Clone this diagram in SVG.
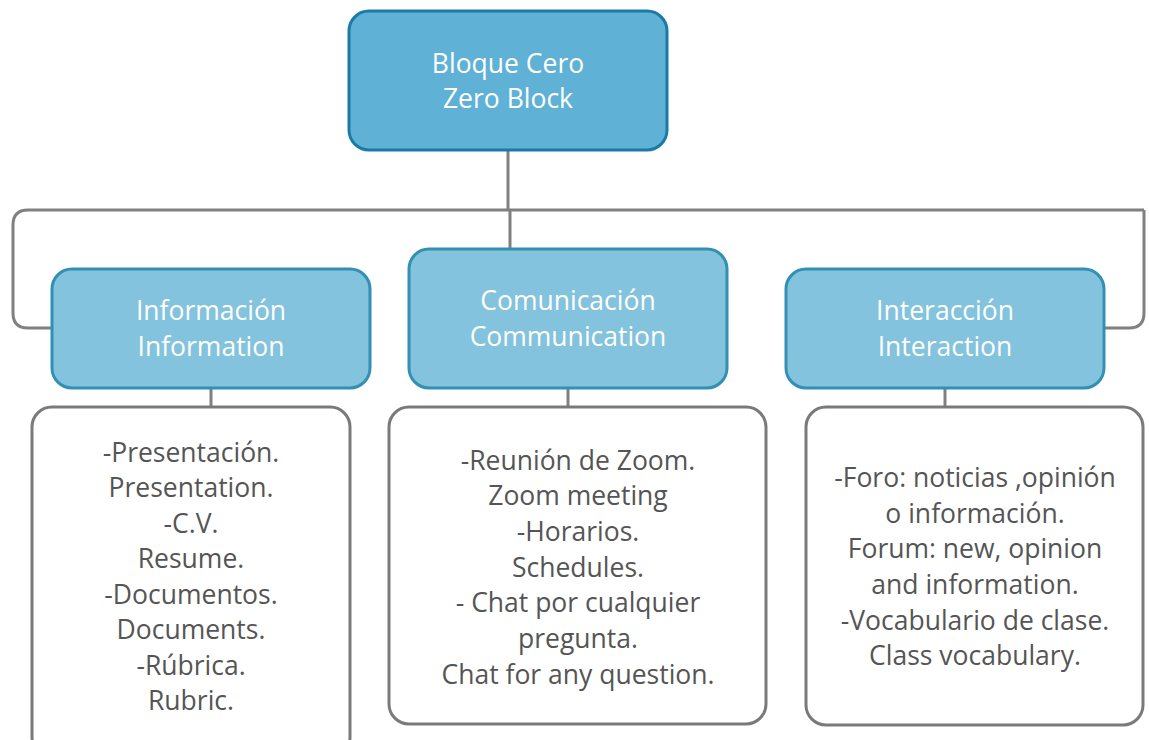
<svg xmlns="http://www.w3.org/2000/svg" width="1149" height="740" viewBox="0 0 1149 740">
<style>
.root{fill:#5fb1d6;stroke:#1c7aa6;stroke-width:3}
.mid{fill:#83c3dd;stroke:#3290b4;stroke-width:3}
.leaf{fill:#ffffff;stroke:#7a7a7a;stroke-width:3}
.wt{font-family:"Open Sans","Noto Sans",sans-serif;font-size:26.5px;fill:#ffffff;text-anchor:middle}
.gt{font-family:"Open Sans","Noto Sans",sans-serif;font-size:26.5px;fill:#555555;text-anchor:middle}
.conn{fill:none;stroke:#808080;stroke-width:3}
</style>
<rect width="1149" height="740" fill="#ffffff"/>
<g id="connectors">
<path class="conn" d="M508,150 V211"/>
<path class="conn" d="M1144,210 H28 Q13,210 13,225 V313 Q13,328 28,328 H52"/>
<path class="conn" d="M1144,210 V313 Q1144,328 1129,328 H1104"/>
<path class="conn" d="M510,211 V249"/>
<path class="conn" d="M211,388 V407"/>
<path class="conn" d="M568,388 V407"/>
<path class="conn" d="M945,388 V407"/>
</g>
<g id="root">
<rect class="root" x="349" y="11" width="318" height="139" rx="20"/>
<text class="wt" x="508" y="73">Bloque Cero</text>
<text class="wt" x="508" y="108">Zero Block</text>
</g>
<g id="informacion">
<rect class="mid" x="52" y="269" width="318" height="119" rx="20"/>
<text class="wt" x="211" y="320">Información</text>
<text class="wt" x="211" y="356">Information</text>
</g>
<g id="comunicacion">
<rect class="mid" x="409" y="249" width="318" height="139" rx="20"/>
<text class="wt" x="568" y="310">Comunicación</text>
<text class="wt" x="568" y="346">Communication</text>
</g>
<g id="interaccion">
<rect class="mid" x="786" y="269" width="318" height="119" rx="20"/>
<text class="wt" x="945" y="320">Interacción</text>
<text class="wt" x="945" y="356">Interaction</text>
</g>
<g id="info-items">
<rect class="leaf" x="32" y="407" width="318" height="350" rx="20"/>
<text class="gt" x="191" y="462">-Presentación.</text>
<text class="gt" x="191" y="497">Presentation.</text>
<text class="gt" x="191" y="533">-C.V.</text>
<text class="gt" x="191" y="568">Resume.</text>
<text class="gt" x="191" y="604">-Documentos.</text>
<text class="gt" x="191" y="639">Documents.</text>
<text class="gt" x="191" y="675">-Rúbrica.</text>
<text class="gt" x="191" y="710">Rubric.</text>
</g>
<g id="comm-items">
<rect class="leaf" x="389" y="407" width="377" height="317" rx="20"/>
<text class="gt" x="578" y="470">-Reunión de Zoom.</text>
<text class="gt" x="578" y="505">Zoom meeting</text>
<text class="gt" x="578" y="541">-Horarios.</text>
<text class="gt" x="578" y="577">Schedules.</text>
<text class="gt" x="578" y="612">- Chat por cualquier</text>
<text class="gt" x="578" y="648">pregunta.</text>
<text class="gt" x="578" y="684">Chat for any question.</text>
</g>
<g id="inter-items">
<rect class="leaf" x="806" y="407" width="337" height="318" rx="20"/>
<text class="gt" x="975" y="487">-Foro: noticias ,opinión</text>
<text class="gt" x="975" y="523">o información.</text>
<text class="gt" x="975" y="558">Forum: new, opinion</text>
<text class="gt" x="975" y="594">and information.</text>
<text class="gt" x="975" y="630">-Vocabulario de clase.</text>
<text class="gt" x="975" y="665">Class vocabulary.</text>
</g>
</svg>
